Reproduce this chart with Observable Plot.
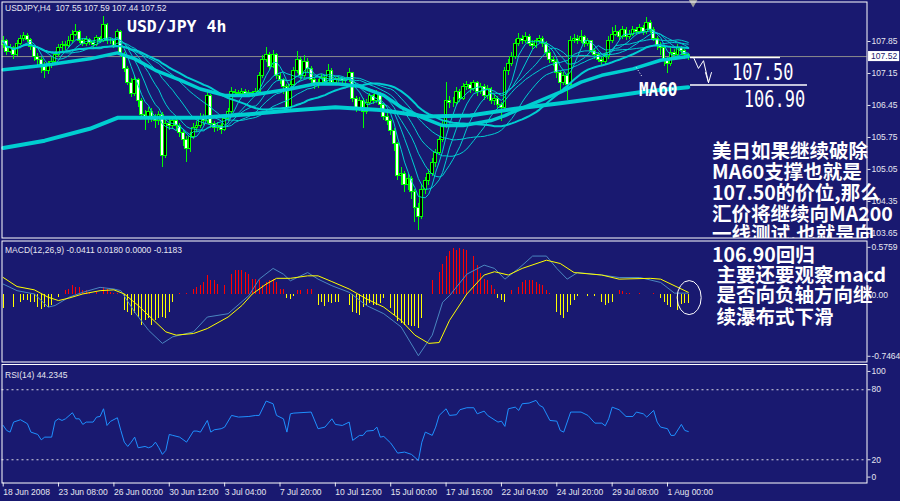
<!DOCTYPE html>
<html><head><meta charset="utf-8">
<script src="https://cdn.jsdelivr.net/npm/d3@7"></script>
<script src="https://cdn.jsdelivr.net/npm/@observablehq/plot@0.6"></script>
<style>
html,body{margin:0;padding:0;background:#191970;}
#chart{position:relative;width:900px;height:501px;background:#191970;overflow:hidden;}
#chart svg{position:absolute;left:0;}
</style></head><body><div id="chart"></div>
<script>
// ---------- DATA ----------
const firstOpen = 107.78;
const closes = [
107.85,107.62,107.70,107.55,107.80,107.90,107.96,107.88,107.72,107.50,
107.45,107.30,107.20,107.35,107.40,107.55,107.70,107.78,107.75,107.85,
108.00,108.05,107.85,107.80,107.88,107.82,107.78,107.92,107.85,108.20,
107.85,107.85,107.75,108.05,107.55,107.25,106.95,106.70,107.00,106.55,
106.25,106.15,106.30,106.20,106.10,106.25,105.35,106.05,106.00,106.10,
106.00,105.85,105.70,105.50,105.75,105.95,106.00,106.20,106.10,106.65,
106.05,105.95,106.00,105.92,106.15,106.30,106.75,106.72,106.70,106.75,
106.70,106.72,106.68,106.75,107.10,107.45,107.55,107.30,107.55,107.10,
107.00,106.85,106.40,106.90,107.20,107.45,107.10,107.40,107.25,107.00,
106.90,106.95,107.05,106.95,107.20,106.95,107.00,107.02,106.98,107.00,
107.15,106.60,106.40,106.55,106.30,106.50,106.65,106.55,106.70,106.45,
106.20,106.10,105.90,105.60,104.90,104.95,104.70,104.85,104.55,104.20,
104.00,104.60,104.80,104.95,105.20,105.40,105.70,106.00,106.55,106.50,
106.50,106.75,106.60,106.85,106.90,106.80,106.95,106.75,106.85,106.65,
106.80,106.55,106.60,106.45,106.40,107.20,107.35,107.50,107.80,107.90,
107.85,107.95,107.80,107.75,107.85,107.90,107.80,107.60,107.45,107.40,
107.15,106.95,107.10,106.90,107.85,107.90,107.85,107.95,107.80,107.85,
107.65,107.55,107.45,107.40,107.50,107.85,108.00,108.05,107.95,108.10,
107.95,108.00,108.10,108.05,108.15,108.05,108.25,108.10,107.90,107.75,
107.70,107.45,107.35,107.60,107.55,107.70,107.65,107.55,107.52];
const highs = [
107.95,107.90,107.78,107.75,107.88,107.98,108.05,108.02,107.92,107.76,
107.58,107.50,107.38,107.42,107.50,107.62,107.78,107.85,107.86,107.95,
108.10,108.22,108.08,107.92,107.95,107.92,107.88,107.98,107.96,108.40,
108.25,107.92,107.90,108.12,108.08,107.60,107.30,107.05,107.10,107.05,
106.60,106.35,106.40,106.38,106.25,106.32,106.30,106.12,106.15,106.20,
106.15,106.05,105.92,105.78,105.85,106.05,106.10,106.28,106.25,106.75,
106.68,106.10,106.08,106.05,106.22,106.38,106.85,106.80,106.78,106.82,
106.80,106.78,106.76,106.82,107.18,107.55,107.72,107.60,107.65,107.58,
107.15,107.05,106.90,106.98,107.28,107.62,107.50,107.55,107.48,107.30,
107.05,107.02,107.12,107.10,107.35,107.25,107.06,107.08,107.06,107.05,
107.25,107.18,106.65,106.62,106.60,106.58,106.72,106.70,106.78,106.74,
106.50,106.28,106.15,105.95,105.65,105.10,105.00,104.95,104.90,104.62,
104.30,104.70,104.88,105.05,105.30,105.48,105.78,106.10,106.95,106.65,
106.62,106.85,106.80,106.92,106.98,106.95,107.00,106.98,106.92,106.90,
106.88,106.85,106.68,106.65,106.52,107.28,107.45,107.60,107.90,108.02,
107.98,108.05,108.00,107.88,107.92,107.98,107.95,107.84,107.65,107.52,
107.45,107.20,107.18,107.15,107.95,108.00,107.98,108.10,107.98,107.92,
107.88,107.70,107.60,107.50,107.58,107.95,108.15,108.20,108.10,108.18,
108.15,108.08,108.18,108.15,108.22,108.20,108.38,108.30,108.15,107.95,
107.82,107.75,107.50,107.70,107.68,107.78,107.75,107.68,107.59];
const lows = [
107.70,107.55,107.58,107.45,107.52,107.76,107.86,107.82,107.66,107.42,
107.30,107.15,107.05,107.12,107.25,107.35,107.50,107.64,107.66,107.70,
107.80,107.95,107.80,107.74,107.75,107.76,107.70,107.74,107.80,107.82,
107.78,107.78,107.70,107.72,107.50,107.18,106.88,106.62,106.65,106.40,
106.15,105.90,106.05,106.08,105.95,106.02,105.10,105.30,105.90,105.92,
105.88,105.75,105.55,105.20,105.42,105.70,105.85,105.95,106.02,106.05,
105.95,105.85,105.88,105.82,105.88,106.10,106.25,106.66,106.62,106.65,
106.64,106.65,106.62,106.64,106.72,107.05,107.40,107.22,107.25,107.02,
106.90,106.70,106.30,106.35,106.85,107.15,107.02,107.05,107.15,106.92,
106.80,106.82,106.90,106.88,106.92,106.88,106.92,106.95,106.92,106.94,
106.95,106.52,106.30,106.32,105.95,106.25,106.45,106.48,106.50,106.38,
106.12,106.02,105.80,105.45,104.80,104.70,104.55,104.60,104.40,103.90,
103.71,103.95,104.50,104.70,104.90,105.10,105.35,105.65,105.95,106.38,
106.40,106.45,106.52,106.55,106.78,106.72,106.75,106.65,106.70,106.55,
106.58,106.48,106.45,106.36,106.10,106.35,107.10,107.30,107.45,107.75,
107.78,107.80,107.74,107.68,107.70,107.80,107.72,107.52,107.36,107.30,
107.05,106.75,106.88,106.55,106.85,107.80,107.78,107.80,107.72,107.75,
107.58,107.45,107.38,107.32,107.35,107.45,107.80,107.95,107.88,107.90,
107.88,107.90,107.95,107.98,108.00,107.98,108.00,108.02,107.84,107.65,
107.55,107.30,107.15,107.30,107.48,107.50,107.55,107.46,107.44];

// moving averages (thick lines)
const ma60Idx = [0,12,25,33,38,44,51,57,64,71,77,83,90,97,103,110,115,121,127,133,141,145,154,161,167,173,182,190,198];
const ma60Val = [107.23,107.33,107.47,107.60,107.47,107.22,107.01,106.81,106.67,106.67,106.74,106.81,106.92,106.92,106.87,106.67,106.41,106.19,106.01,106.01,106.12,106.23,106.52,106.74,106.96,107.11,107.25,107.44,107.52];
const ma200Idx = [0,12,25,33,44,57,70,83,96,109,122,135,148,161,173,186,198];
const ma200Val = [105.52,105.68,105.94,106.18,106.18,106.18,106.25,106.34,106.41,106.35,106.21,106.23,106.38,106.50,106.62,106.76,106.85];
const fanPeriods = [5, 9, 14, 21, 30];

// MACD
const macdHist = [
-0.17,0,0,-0.15,0,-0.09,-0.07,-0.07,-0.09,-0.09,
-0.15,-0.18,-0.16,-0.15,-0.13,0,-0.03,0,0.05,0.07,
0.11,0.09,0.09,0.05,0.05,0.03,0,0.03,0,0.09,
0.07,0.03,0.01,0.02,0,-0.19,-0.21,-0.25,-0.23,-0.27,
-0.37,-0.31,-0.29,-0.37,-0.31,-0.29,-0.27,-0.29,-0.21,-0.09,
0,0.01,0,0.01,0,0.07,0.09,0.11,0.15,0.23,
0.17,0.17,0.13,0,0.11,0,0.25,0.30,0.30,0.30,
0.27,0.25,0.19,0.19,0.17,0.11,0.15,0.17,0.19,0.15,
0.07,0.07,-0.04,-0.06,-0.02,0.05,0.05,0,0.07,0.07,
0,-0.13,-0.09,-0.14,-0.09,-0.11,-0.09,-0.09,0,0,
-0.13,-0.21,-0.23,-0.25,-0.16,-0.13,-0.11,-0.13,-0.13,-0.11,
-0.05,0,-0.17,-0.25,-0.33,-0.35,-0.37,-0.37,-0.39,-0.39,
-0.41,-0.29,0,0,0.17,0,0.27,0.37,0.47,0.53,
0.56,0.54,0.56,0.55,0.54,0,0.46,0.36,0.26,0.19,
0.17,0.11,0.07,-0.05,-0.07,-0.09,0,0.05,0,0.09,
0.15,0.17,0.17,0.17,0.15,0.13,0.11,0.05,0.01,0,
-0.21,-0.25,-0.29,-0.21,-0.13,-0.07,-0.02,0,0,-0.02,
0,-0.02,0,-0.09,-0.13,-0.11,-0.09,0,0.05,0.04,
0.02,0.01,0,0,0.02,0,0,0,0.02,0,
-0.05,-0.09,-0.13,-0.15,0,-0.19,-0.12,-0.11,-0.11];
const macdIdx = [0,4,9,13,15,19,23,28,32,34,38,42,46,49,55,59,65,71,74,78,81,83,88,91,95,100,105,110,115,120,124,127,129,134,139,142,145,149,153,157,160,163,166,173,178,184,190,194,198];
const macdVal = [0.13,0.05,0.01,-0.15,-0.13,-0.03,0.03,0.09,0.07,0.05,-0.21,-0.43,-0.59,-0.51,-0.45,-0.27,-0.23,-0.01,0.19,0.32,0.25,0.17,0.27,0.19,0.11,0.03,-0.13,-0.23,-0.39,-0.74,-0.49,-0.09,-0.01,0.25,0.36,0.32,0.19,0.32,0.47,0.47,0.32,0.19,0.27,0.24,0.21,0.21,0.15,0.02,0.02];
const signalIdx = [0,4,9,13,16,19,23,28,32,35,39,43,47,50,55,59,65,69,72,76,79,83,88,91,95,100,105,110,115,119,123,126,129,134,139,142,146,150,157,161,165,173,178,187,190,195,198];
const signalVal = [0.21,0.10,0.06,-0.03,-0.07,-0.04,0.01,0.05,0.06,0.01,-0.13,-0.29,-0.45,-0.49,-0.47,-0.41,-0.27,-0.13,0.01,0.13,0.20,0.20,0.23,0.23,0.16,0.07,-0.05,-0.15,-0.31,-0.49,-0.59,-0.58,-0.31,0.01,0.24,0.28,0.24,0.32,0.42,0.38,0.27,0.24,0.19,0.20,0.19,0.09,0.03];

// RSI
const rsiIdx = [0,1,2,3,5,7,8,10,11,12,14,15,16,17,18,20,21,22,23,24,26,27,28,29,30,31,33,34,35,36,37,38,39,41,42,43,44,45,46,47,48,49,51,53,55,56,57,59,60,61,63,64,66,68,71,73,74,76,78,79,81,82,83,84,89,91,93,95,96,98,100,101,103,104,105,107,108,109,110,112,114,116,118,120,121,122,124,125,126,128,129,131,132,134,136,137,139,140,143,144,145,146,148,149,150,152,154,155,156,158,160,161,162,164,167,169,171,173,174,175,176,178,180,182,183,185,186,188,189,190,192,193,194,196,197,198];
const rsiVal = [49.4,45.1,43.7,52.3,54.3,50.9,43.7,41.7,37.1,39.4,
39.4,53.1,55.1,53.7,55.1,60.3,55.1,55.1,50.3,52.3,
52.3,56.6,57.1,63.7,49.4,52.9,56.0,45.1,35.1,31.4,
35.1,39.4,30.3,31.4,30.3,31.4,35.1,30.3,24.6,28.0,
41.7,40.9,39.4,35.1,44.6,44.6,43.7,53.7,43.7,45.7,
46.6,48.0,58.0,56.6,57.1,58.0,58.0,70.3,68.0,58.0,
55.1,43.7,59.4,60.0,60.9,46.6,48.0,55.1,50.3,49.4,
52.3,36.6,40.9,40.9,44.6,45.1,48.0,39.4,40.0,34.3,
25.7,26.6,24.6,19.4,35.1,43.7,40.9,48.0,58.0,63.7,
58.0,58.6,62.9,64.6,64.6,59.4,61.7,58.0,52.3,53.1,
48.6,63.7,65.1,62.3,68.0,68.6,70.9,66.6,65.1,53.7,
53.1,45.1,43.7,60.9,60.9,58.0,51.4,51.4,49.1,55.1,
65.1,62.9,57.1,57.1,60.9,59.4,56.6,62.3,52.3,48.0,
46.6,40.9,40.9,50.3,45.1,44.2];

// ticks and labels
const priceTicks = [107.85,107.15,106.45,105.75,105.05,104.35,103.65];
const macdTicks = [0.5759, 0, -0.7464];
const macdTickLabels = ["0.5759", "0.00", "-0.7464"];
const timeTickIdx = [0,16,32,48,64,80,96,112,128,144,160,176,192];
const timeTickLabels = ["18 Jun 2008","23 Jun 08:00","26 Jun 00:00","30 Jun 12:00","3 Jul 04:00","7 Jul 20:00","10 Jul 12:00","15 Jul 00:00","17 Jul 16:00","22 Jul 04:00","24 Jul 20:00","29 Jul 08:00","1 Aug 00:00"];
const headerText = "USDJPY,H4  107.55 107.59 107.44 107.52";
const macdLabel = "MACD(12,26,9) -0.0411 0.0180 0.0000 -0.1183";
const rsiLabel = "RSI(14) 44.2345";
const titleText = "USD/JPY 4h";
const levels = [107.50, 106.90];
const noteLines = ["美日如果继续破除","MA60支撑也就是","107.50的价位,那么","汇价将继续向MA200","一线测试,也就是向","106.90回归"," 主要还要观察macd"," 是否向负轴方向继"," 续瀑布式下滑"];

// annotation anchors in data space (bar index, price)
const zigzag = [
  {i:199.65,p:107.48,g:0},{i:200.95,p:107.26,g:0},{i:202.4,p:107.43,g:0},{i:203.85,p:106.95,g:0},
  {i:202.97,p:107.17,g:1},{i:203.85,p:106.95,g:1},{i:204.7,p:107.17,g:1}];
const leader = [{i1:183.0,p1:107.28,i2:184.8,p2:107.06}];
const levelSpan = [{p:107.50,i1:198.64,i2:224.65},{p:106.90,i1:198.64,i2:232.45}];

// ---------- CHART ----------
const NAVY = "#191970", LIME = "#00ff00", TURQ = "#00ced1", AX = "#e6e6f0";
const FONT = '"Liberation Sans", Arial, sans-serif';
const xDomain = [-0.347, 249.653];
const bars = closes.map((c, i) => ({i, o: i ? closes[i-1] : firstOpen, h: highs[i], l: lows[i], c}));
const lastClose = closes[closes.length - 1];
const ma60 = ma60Idx.map((i, k) => ({i, p: ma60Val[k]}));
const ma200 = ma200Idx.map((i, k) => ({i, p: ma200Val[k]}));
const hist = macdHist.map((v, i) => ({i, v})).filter(d => d.v !== 0);
const macdLine = macdIdx.map((i, k) => ({i, v: macdVal[k]}));
const sigLine = signalIdx.map((i, k) => ({i, v: signalVal[k]}));
const rsi = rsiIdx.map((i, k) => ({i, v: rsiVal[k]}));
const baseStyle = {background: "transparent", color: AX, fontFamily: FONT, fontSize: "8.5px", overflow: "visible"};
const common = {width: 900, marginLeft: 1.5, marginRight: 33.5, style: baseStyle};
const yAx = {anchor: "right", tickSize: 3, tickPadding: 1.5, label: null, fontSize: 8.5};

const main = Plot.plot({
  ...common, height: 240, marginTop: 1.5, marginBottom: 2.5,
  x: {domain: xDomain, axis: null},
  y: {domain: [103.550, 108.714]},
  marks: [
    Plot.ruleY([lastClose], {stroke: "#8c8c8c"}),
    Plot.ruleX(bars, {x: "i", y1: "l", y2: "h", stroke: LIME, shapeRendering: "crispEdges"}),
    Plot.rect(bars, {x1: d => d.i - 0.4, x2: d => d.i + 0.4, y1: "o", y2: "c",
      fill: d => d.c >= d.o ? "#000000" : "#ffffff", stroke: LIME, shapeRendering: "crispEdges"}),
    ...fanPeriods.map(k => Plot.lineY(bars, Plot.windowY({k, anchor: "end"}, {x: "i", y: "c", stroke: TURQ, strokeWidth: 1}))),
    Plot.lineY(bars, Plot.windowY({k: 42, anchor: "end"}, {x: "i", y: "c", stroke: TURQ, strokeWidth: 2})),
    Plot.line(ma60, {x: "i", y: "p", stroke: TURQ, strokeWidth: 3.5}),
    Plot.line(ma200, {x: "i", y: "p", stroke: TURQ, strokeWidth: 4}),
    Plot.ruleY(levelSpan, {y: "p", x1: "i1", x2: "i2", stroke: "white", strokeWidth: 1.5}),
    Plot.line(zigzag, {x: "i", y: "p", z: "g", stroke: "white", strokeWidth: 1}),
    Plot.link(leader, {x1: "i1", y1: "p1", x2: "i2", y2: "p2", stroke: "white", strokeDasharray: "1,2"}),
    Plot.dot([lastClose], {x: () => 199.4, frameAnchor: "top", symbol: "triangle", rotate: 180, r: 3.5, fill: "#9a9a9a", stroke: "none"}),
    Plot.axisY({...yAx, ticks: priceTicks, tickFormat: d => d.toFixed(2)}),
    Plot.rect([lastClose], {x1: () => 250.1, x2: () => 259.1, y1: d => d - 0.11, y2: d => d + 0.11, fill: "white"}),
    Plot.text([lastClose], {x: () => 254.6, y: d => d, text: d => d.toFixed(2), fill: NAVY, fontSize: 8.5}),
    Plot.frame({stroke: "white"})
  ]
});

const macd = Plot.plot({
  ...common, height: 123, marginTop: 0.5, marginBottom: 1.5,
  x: {domain: xDomain, axis: null},
  y: {domain: [-0.816, 0.653]},
  marks: [
    Plot.ruleX(hist, {x: "i", y1: () => 0, y2: "v", stroke: d => d.v > 0 ? "#ff0000" : "#ffff00", shapeRendering: "crispEdges"}),
    Plot.line(macdLine, {x: "i", y: "v", stroke: "#4a86c0", strokeWidth: 1}),
    Plot.line(sigLine, {x: "i", y: "v", stroke: "#ffff00", strokeWidth: 1}),
    Plot.axisY({...yAx, ticks: macdTicks, tickFormat: d => macdTickLabels[macdTicks.indexOf(d)]}),
    Plot.frame({stroke: "white"})
  ]
});

const rsiPlot = Plot.plot({
  ...common, height: 138, marginTop: 1, marginBottom: 18.5,
  x: {domain: xDomain},
  y: {domain: [0.09, 101.65]},
  marks: [
    Plot.ruleY([80, 20], {stroke: "#d8d8e0", strokeDasharray: "2,3"}),
    Plot.line(rsi, {x: "i", y: "v", stroke: "#1e90ff", strokeWidth: 1}),
    Plot.axisY({...yAx, ticks: [80, 20]}),
    Plot.axisY({...yAx, ticks: [100], dy: 5}),
    Plot.axisY({...yAx, ticks: [0], dy: -6}),
    Plot.axisX({ticks: timeTickIdx, tickFormat: d => timeTickLabels[timeTickIdx.indexOf(d)], textAnchor: "start", tickSize: 4, tickPadding: 2, label: null, fontSize: 8.5}),
    Plot.frame({stroke: "white"})
  ]
});

const root = document.getElementById("chart");
[[main, 0], [macd, 240], [rsiPlot, 363]].forEach(([el, top]) => { el.style.top = top + "px"; root.appendChild(el); });

// ---------- TEXT OVERLAY ----------
const mx = main.scale("x"), my = main.scale("y");
const kx = macd.scale("x"), ky = macd.scale("y");
const ov = d3.create("svg").attr("width", 900).attr("height", 501).style("top", "0px").style("pointer-events", "none");
ov.append("defs").append("clipPath").attr("id", "mainclip").attr("clipPathUnits", "userSpaceOnUse")
  .append("rect").attr("x", 0).attr("y", 0).attr("width", 900).attr("height", 238);
const gMainText = ov.append("g").attr("clip-path", "url(#mainclip)");
const gFree = ov.append("g");
function label(g, x, y, s, font, size, opts = {}) {
  return g.append("text").attr("transform", `translate(${x},${y}) scale(1,${opts.sy || 1})`)
    .attr("dominant-baseline", "central").attr("fill", opts.fill || "white")
    .attr("font-family", font).attr("font-size", size).attr("font-weight", opts.weight || "normal")
    .style("white-space", "pre").text(s);
}
label(gFree, 5, 8, headerText, FONT, 8.5, {fill: AX});
label(gFree, 5, 250, macdLabel, FONT, 8.5, {fill: AX});
label(gFree, 5, 375, rsiLabel, FONT, 8.5, {fill: AX});
label(gFree, 127, 26.5, titleText, '"DejaVu Sans Mono", monospace', 16.5, {weight: "bold"});
label(gFree, mx.apply(210.8), my.apply(107.18), levels[0].toFixed(2), '"DejaVu Sans Mono", monospace', 17, {sy: 1.35});
label(gFree, mx.apply(214.2), my.apply(106.58), levels[1].toFixed(2), '"DejaVu Sans Mono", monospace', 17, {sy: 1.35});
label(gFree, mx.apply(183.9), my.apply(106.78), "MA60", '"DejaVu Sans Mono", monospace', 16, {sy: 1.2, weight: "bold"});
const lineY = [149, 170, 191, 212, 232, 253, 273, 293, 315];
noteLines.forEach((s, k) => label(k < 5 ? gMainText : gFree, 712, lineY[k], s, '"Noto Sans CJK SC", sans-serif', 19.5, {weight: "bold"}));
gFree.append("ellipse").attr("cx", kx.apply(198.4)).attr("cy", 240 + ky.apply(-0.04)).attr("rx", 12).attr("ry", 17)
  .attr("fill", "none").attr("stroke", "white").attr("stroke-width", 1);
root.appendChild(ov.node());
</script></body></html>
